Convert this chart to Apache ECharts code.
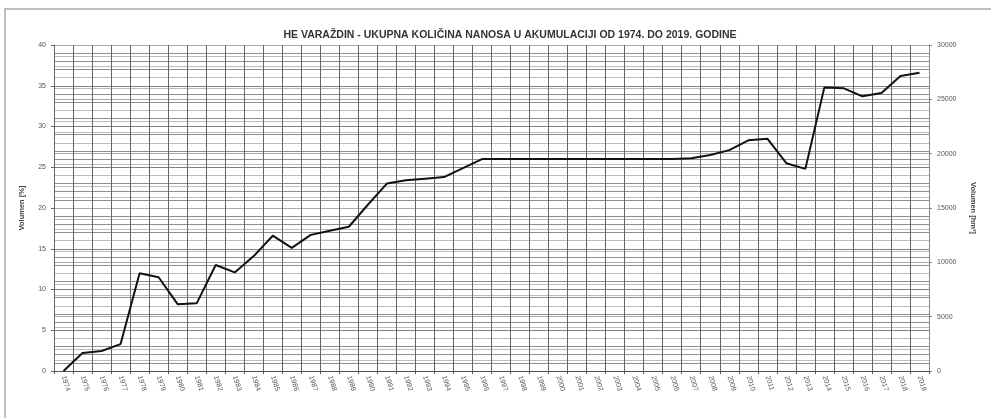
<!DOCTYPE html>
<html>
<head>
<meta charset="utf-8">
<script src="https://cdn.jsdelivr.net/npm/echarts@6/dist/echarts.min.js"></script>
<style>
  html, body { margin: 0; padding: 0; background: #fff; }
  #chart { width: 991px; height: 418px; }
</style>
</head>
<body>
<div id="chart"></div>
<script>
// Years of the survey series
const years = [
  '1974','1975','1976','1977','1978','1979','1980','1981','1982','1983',
  '1984','1985','1986','1987','1988','1989','1990','1991','1992','1993',
  '1994','1995','1996','1997','1998','1999','2000','2001','2002','2003',
  '2004','2005','2006','2007','2008','2009','2010','2011','2012','2013',
  '2014','2015','2016','2017','2018','2019'
];

// Sediment volume in the reservoir, percent of total volume
const sedimentPct = [
  0.0, 2.2, 2.45, 3.3, 12.0, 11.5, 8.2, 8.3, 13.0, 12.1,
  14.1, 16.6, 15.1, 16.7, 17.2, 17.7, 20.4, 23.0, 23.4, 23.6,
  23.8, 24.9, 26.0, 26.0, 26.0, 26.0, 26.0, 26.0, 26.0, 26.0,
  26.0, 26.0, 26.0, 26.1, 26.5, 27.1, 28.3, 28.5, 25.5, 24.8,
  34.8, 34.7, 33.7, 34.1, 36.2, 36.6
];

// Axis ranges: 40 % of the reservoir corresponds to 30000 hm3
const pctAxis = { min: 0, max: 40, step: 5 };
const volAxis = { min: 0, max: 30000, step: 5000 };

const chart = echarts.init(document.getElementById('chart'));

const FONT = 'Liberation Sans, Arial, sans-serif';
const labelStyle = { color: '#555', fontSize: 7, fontFamily: FONT };

chart.setOption({
  animation: false,
  backgroundColor: '#fff',
  title: {
    text: 'HE VARAŽDIN - UKUPNA KOLIČINA NANOSA U AKUMULACIJI OD 1974. DO 2019. GODINE',
    left: 505,
    top: 25,
    textAlign: 'center',
    textStyle: { fontSize: 10.5, fontWeight: 'bold', color: '#333', fontFamily: FONT }
  },
  graphic: [{
    type: 'rect',
    shape: { x: 5, y: 9, width: 1000, height: 430 },
    style: { fill: 'none', stroke: '#aaa', lineWidth: 1.5 },
    z: -1
  }],
  grid: { left: 54, right: 62, top: 45, bottom: 47 },
  xAxis: {
    type: 'category',
    data: years,
    boundaryGap: true,
    axisLine: { show: true, lineStyle: { color: '#555', width: 1 } },
    axisTick: { show: true, alignWithLabel: false, length: 3, lineStyle: { color: '#555' } },
    axisLabel: Object.assign({ interval: 0, rotate: -72, margin: 5 }, labelStyle),
    splitLine: { show: true, interval: 0, lineStyle: { color: '#666', width: 1 } }
  },
  yAxis: [
    {
      type: 'value',
      min: pctAxis.min, max: pctAxis.max, interval: pctAxis.step,
      name: 'Volumen [%]',
      nameLocation: 'middle',
      nameGap: 28,
      nameRotate: 90,
      nameTextStyle: { color: '#444', fontSize: 7.5, fontWeight: 'bold', fontFamily: FONT },
      axisLine: { show: true, lineStyle: { color: '#666' } },
      axisTick: { show: true, length: 3, lineStyle: { color: '#666' } },
      axisLabel: Object.assign({ margin: 8 }, labelStyle),
      splitLine: { show: true, lineStyle: { color: '#808080', width: 1 } },
      minorTick: { show: false, splitNumber: 5 },
      minorSplitLine: { show: true, lineStyle: { color: '#8f8f8f', width: 1 } }
    },
    {
      type: 'value',
      min: volAxis.min, max: volAxis.max, interval: volAxis.step,
      name: 'Volumen [hm³]',
      nameLocation: 'middle',
      nameGap: 40,
      nameRotate: -90,
      nameTextStyle: { color: '#444', fontSize: 7.5, fontWeight: 'bold', fontFamily: FONT },
      axisLine: { show: true, lineStyle: { color: '#888' } },
      axisTick: { show: true, length: 3, lineStyle: { color: '#888' } },
      axisLabel: Object.assign({ margin: 8, formatter: v => String(v) }, labelStyle),
      splitLine: { show: true, lineStyle: { color: '#aaa', width: 1 } },
      minorTick: { show: false, splitNumber: 5 },
      minorSplitLine: { show: true, lineStyle: { color: '#bdbdbd', width: 1 } }
    }
  ],
  series: [{
    type: 'line',
    yAxisIndex: 0,
    data: sedimentPct,
    symbol: 'none',
    lineStyle: { color: '#111', width: 2 },
    z: 5
  }]
});
</script>
</body>
</html>
